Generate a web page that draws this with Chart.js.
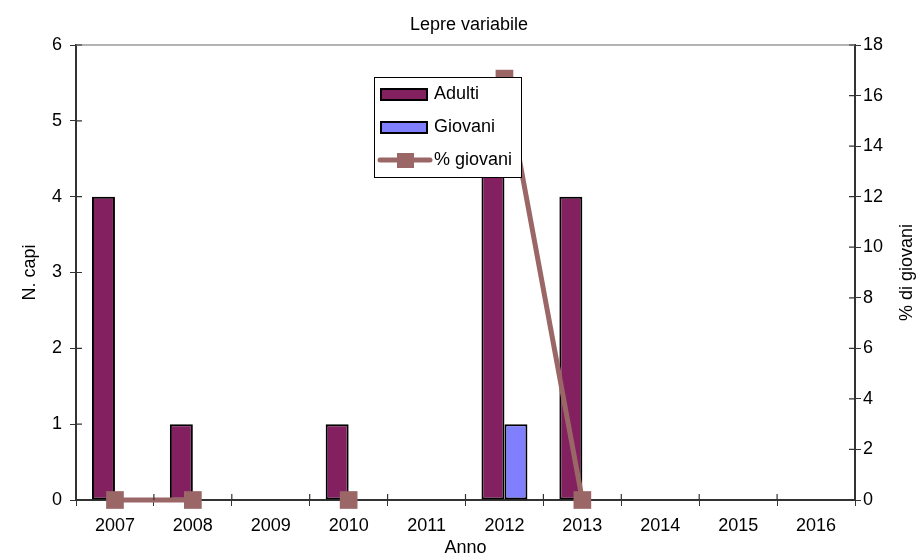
<!DOCTYPE html>
<html>
<head>
<meta charset="utf-8">
<script src="https://cdn.jsdelivr.net/npm/chart.js@4.4.1/dist/chart.umd.min.js"></script>
<style>
html,body{margin:0;padding:0;background:#fff;}
#wrap{width:919px;height:557px;position:relative;}
</style>
</head>
<body>
<div id="wrap"><canvas id="c" width="919" height="557"></canvas></div>
<script>
const categories = ['2007','2008','2009','2010','2011','2012','2013','2014','2015','2016'];
const adulti = [4, 1, null, 1, null, 5, 4, null, null, null];
const giovani = [0, 0, null, 0, null, 1, 0, null, null, null];
const percGiovani = [0, 0, null, 0, null, 16.67, 0, null, null, null];
const leftTicks = [0,1,2,3,4,5,6];
const rightTicks = [0,2,4,6,8,10,12,14,16,18];

const FONT = "'Liberation Sans', Arial, sans-serif";
const AXIS = '#333';
const C_AD = '#822060';
const C_GI = '#8080FF';
const C_PC = '#9A6666';

const decor = {
  id: 'decor',
  afterDraw(chart) {
    const ctx = chart.ctx;
    const a = chart.chartArea;
    const x = chart.scales.x, yl = chart.scales.y, yr = chart.scales.y2;
    ctx.save();
    // top border
    ctx.strokeStyle = '#9a9a9a';
    ctx.lineWidth = 1.5;
    ctx.beginPath(); ctx.moveTo(a.left, a.top); ctx.lineTo(a.right, a.top); ctx.stroke();
    // inner halves of ticks
    ctx.strokeStyle = AXIS;
    ctx.lineWidth = 1.2;
    ctx.beginPath();
    leftTicks.forEach(v => { const p = yl.getPixelForValue(v); ctx.moveTo(a.left, p); ctx.lineTo(a.left + 6, p); });
    rightTicks.forEach(v => { const p = yr.getPixelForValue(v); ctx.moveTo(a.right, p); ctx.lineTo(a.right - 6, p); });
    for (let i = 0; i <= categories.length; i++) {
      const p = x.getPixelForValue(i - 0.5);
      ctx.moveTo(p, a.bottom); ctx.lineTo(p, a.bottom - 6);
    }
    ctx.stroke();

    // texts
    ctx.fillStyle = '#000';
    ctx.font = '18px ' + FONT;
    ctx.textAlign = 'center';
    ctx.textBaseline = 'middle';
    ctx.fillText('Lepre variabile', 469, 25);
    ctx.fillText('Anno', (a.left + a.right) / 2, 548);
    ctx.save(); ctx.translate(30, (a.top + a.bottom) / 2); ctx.rotate(-Math.PI / 2);
    ctx.fillText('N. capi', 0, 0); ctx.restore();
    ctx.save(); ctx.translate(907, (a.top + a.bottom) / 2); ctx.rotate(-Math.PI / 2);
    ctx.fillText('% di giovani', 0, 0); ctx.restore();

    // legend
    const L = 374, T = 77, W = 147, H = 100;
    ctx.fillStyle = '#fff';
    ctx.fillRect(L, T, W, H);
    ctx.strokeStyle = '#000'; ctx.lineWidth = 1;
    ctx.strokeRect(L + 0.5, T + 0.5, W, H);
    ctx.lineWidth = 2;
    ctx.fillStyle = C_AD; ctx.fillRect(381, 89, 46, 11); ctx.strokeRect(381, 89, 46, 11);
    ctx.fillStyle = C_GI; ctx.fillRect(381, 122, 46, 11); ctx.strokeRect(381, 122, 46, 11);
    ctx.strokeStyle = C_PC; ctx.lineWidth = 5; ctx.lineCap = 'round';
    ctx.beginPath(); ctx.moveTo(380, 160); ctx.lineTo(430, 160); ctx.stroke();
    ctx.fillStyle = C_PC; ctx.fillRect(397, 153, 17, 15);
    ctx.fillStyle = '#000';
    ctx.textAlign = 'left';
    ctx.fillText('Adulti', 434, 94);
    ctx.fillText('Giovani', 434, 127);
    ctx.fillText('% giovani', 434, 160);
    ctx.restore();
  }
};

new Chart(document.getElementById('c'), {
  type: 'bar',
  data: {
    labels: categories,
    datasets: [
      { type: 'line', label: '% giovani', data: percGiovani, yAxisID: 'y2', order: 0,
        borderColor: C_PC, backgroundColor: C_PC, borderWidth: 5, spanGaps: false,
        pointStyle: 'rect', pointRadius: 12.5, pointBorderWidth: 0, pointBackgroundColor: C_PC,
        clip: false, tension: 0 },
      { label: 'Adulti', data: adulti, yAxisID: 'y', order: 1, backgroundColor: C_AD,
        borderColor: '#000', borderWidth: 2, borderSkipped: false,
        categoryPercentage: 0.59, barPercentage: 1 },
      { label: 'Giovani', data: giovani, yAxisID: 'y', order: 2, backgroundColor: C_GI,
        borderColor: '#000', borderWidth: 2, borderSkipped: false,
        categoryPercentage: 0.59, barPercentage: 1 }
    ]
  },
  options: {
    responsive: false,
    animation: false,
    layout: { padding: { top: 45, left: 0, right: 0, bottom: 0 } },
    plugins: { legend: { display: false }, tooltip: { enabled: false }, title: { display: false } },
    scales: {
      x: {
        offset: true,
        grid: { display: true, drawOnChartArea: false, drawTicks: true, tickLength: 6, color: AXIS, offset: true },
        border: { color: AXIS, width: 2 },
        ticks: { color: '#000', font: { family: FONT, size: 18 }, padding: 9, maxRotation: 0, autoSkip: false },
        afterFit(s) { s.height = 57; }
      },
      y: {
        position: 'left', min: 0, max: 6,
        afterBuildTicks(s) { s.ticks = leftTicks.map(v => ({ value: v })); },
        grid: { drawOnChartArea: false, drawTicks: true, tickLength: 6, color: AXIS },
        border: { color: AXIS, width: 2 },
        ticks: { color: '#000', font: { family: FONT, size: 18 }, padding: 8 },
        afterFit(s) { s.width = 76; }
      },
      y2: {
        position: 'right', min: 0, max: 18,
        afterBuildTicks(s) { s.ticks = rightTicks.map(v => ({ value: v })); },
        grid: { drawOnChartArea: false, drawTicks: true, tickLength: 6, color: AXIS },
        border: { color: AXIS, width: 2 },
        ticks: { color: '#000', font: { family: FONT, size: 18 }, padding: 2 },
        afterFit(s) { s.width = 64; }
      }
    }
  },
  plugins: [decor]
});
</script>
</body>
</html>
